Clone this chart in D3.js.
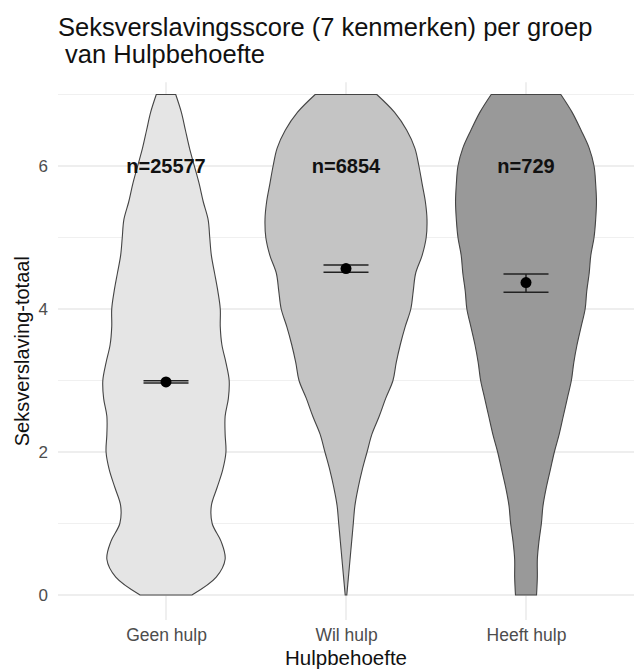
<!DOCTYPE html>
<html>
<head>
<meta charset="utf-8">
<script src="https://cdn.jsdelivr.net/npm/d3@7"></script>
<style>
  html, body { margin: 0; padding: 0; background: #ffffff; }
  svg { display: block; font-family: "Liberation Sans", Arial, sans-serif; }
</style>
</head>
<body>
<svg id="chart" width="634" height="670"></svg>
<script>
// ---------------- data ----------------
const categories = ["Geen hulp", "Wil hulp", "Heeft hulp"];
const nCounts = [25577, 6854, 729];
const means = [2.98, 4.565, 4.37];
const ciLower = [2.965, 4.513, 4.234];
const ciUpper = [2.995, 4.615, 4.49];
const yTicks = [0, 2, 4, 6];
const yMinor = [1, 3, 5, 7];
// density evaluation grid (score values) and relative violin widths (1 = widest)
const densityY = [0, 0.25, 0.5, 0.75, 1, 1.25, 1.5, 1.75, 2, 2.25, 2.5, 2.75, 3, 3.25, 3.5,
                  3.75, 4, 4.25, 4.5, 4.75, 5, 5.25, 5.5, 5.75, 6, 6.25, 6.5, 6.75, 7];
const densityGeen = [0.32, 0.62, 0.73, 0.68, 0.57, 0.56, 0.63, 0.70, 0.74, 0.73, 0.73, 0.77, 0.78, 0.74, 0.69,
                     0.67, 0.67, 0.64, 0.60, 0.56, 0.54, 0.52, 0.46, 0.41, 0.35, 0.29, 0.24, 0.19, 0.12];
const densityWil = [0.01, 0.03, 0.05, 0.07, 0.09, 0.11, 0.15, 0.20, 0.26, 0.32, 0.41, 0.49, 0.58, 0.62, 0.67,
                    0.73, 0.80, 0.83, 0.86, 0.94, 0.99, 1.00, 0.98, 0.94, 0.90, 0.85, 0.75, 0.60, 0.38];
const densityHeeft = [0.13, 0.14, 0.14, 0.16, 0.19, 0.21, 0.25, 0.30, 0.35, 0.41, 0.46, 0.51, 0.56, 0.59, 0.63,
                      0.68, 0.73, 0.75, 0.78, 0.80, 0.84, 0.86, 0.87, 0.86, 0.84, 0.78, 0.68, 0.57, 0.43];
const densities = [densityGeen, densityWil, densityHeeft];
const fills = ["#e5e5e5", "#c4c4c4", "#999999"];

const titleLines = ["Seksverslavingsscore (7 kenmerken) per groep", " van Hulpbehoefte"];
const xTitle = "Hulpbehoefte";
const yTitle = "Seksverslaving-totaal";

// ---------------- layout ----------------
const FONT = "Liberation Sans, Arial, sans-serif";
const svg = d3.select("#chart");
const panel = { left: 58, right: 634 };

const x = d3.scalePoint().domain(categories).range([panel.left, panel.right]).padding(0.6);
const y = d3.scaleLinear().domain([0, 7]).range([595, 94.5]);
const panelTop = y(7.17), panelBottom = y(-0.35);
const step = x.step();
const halfW = d3.scaleLinear().domain([0, 1]).range([0, 0.45 * step]);

// grid
const grid = svg.append("g");
grid.selectAll("line.minor").data(yMinor).join("line")
  .attr("x1", panel.left).attr("x2", panel.right)
  .attr("y1", d => y(d)).attr("y2", d => y(d))
  .attr("stroke", "#f0f0f0").attr("stroke-width", 1);
grid.selectAll("line.major").data(yTicks).join("line")
  .attr("x1", panel.left).attr("x2", panel.right)
  .attr("y1", d => y(d)).attr("y2", d => y(d))
  .attr("stroke", "#e8e8e8").attr("stroke-width", 1.4);
grid.selectAll("line.vmajor").data(categories).join("line")
  .attr("x1", d => x(d)).attr("x2", d => x(d))
  .attr("y1", panelTop).attr("y2", panelBottom)
  .attr("stroke", "#e8e8e8").attr("stroke-width", 1.4);

// violins
categories.forEach((c, i) => {
  const pts = densityY.map((v, j) => ({ v, w: densities[i][j], cx: x(c) }));
  svg.append("path")
    .datum(pts)
    .attr("d", d => {
      const right = d3.line().curve(d3.curveCatmullRom).x(p => p.cx + halfW(p.w)).y(p => y(p.v))(d);
      const left = d3.line().curve(d3.curveCatmullRom).x(p => p.cx - halfW(p.w)).y(p => y(p.v))(d.slice().reverse());
      return right + "L" + left.slice(1) + "Z";
    })
    .attr("fill", fills[i])
    .attr("stroke", "#444")
    .attr("stroke-width", 1.1);
});

// error bars + means
const ebHalf = 0.125 * step;
categories.forEach((c, i) => {
  const g = svg.append("g");
  const cx = x(c);
  g.append("line").attr("x1", cx).attr("x2", cx)
    .attr("y1", y(ciLower[i])).attr("y2", y(ciUpper[i]))
    .attr("stroke", "#111").attr("stroke-width", 1.3);
  [ciLower[i], ciUpper[i]].forEach(v => {
    g.append("line").attr("x1", cx - ebHalf).attr("x2", cx + ebHalf)
      .attr("y1", y(v)).attr("y2", y(v))
      .attr("stroke", "#222").attr("stroke-width", 1.5);
  });
  g.append("circle").attr("cx", cx).attr("cy", y(means[i])).attr("r", 5.5).attr("fill", "#000");
});

// n labels
svg.selectAll("text.nlab").data(categories).join("text")
  .attr("class", "nlab")
  .attr("x", d => x(d)).attr("y", y(6))
  .attr("text-anchor", "middle").attr("dominant-baseline", "central")
  .attr("font-family", FONT)
  .attr("font-size", 20).attr("font-weight", "bold").attr("fill", "#111")
  .text((d, i) => "n=" + nCounts[i]);

// axes (labels only, as in theme_minimal)
const yAxis = svg.append("g").attr("transform", `translate(${panel.left - 4},0)`)
  .call(d3.axisLeft(y).tickValues(yTicks).tickFormat(d3.format("d")).tickSize(0).tickPadding(6));
yAxis.select(".domain").remove();
yAxis.selectAll("text").attr("font-size", 17).attr("fill", "#4d4d4d")
  .attr("font-family", FONT);

const xAxis = svg.append("g").attr("transform", `translate(0,${panelBottom})`)
  .call(d3.axisBottom(x).tickSize(0).tickPadding(9));
xAxis.select(".domain").remove();
xAxis.selectAll("text").attr("font-size", 17.5).attr("fill", "#4d4d4d")
  .attr("font-family", FONT);

// titles
svg.append("text").attr("x", (panel.left + panel.right) / 2).attr("y", 665)
  .attr("text-anchor", "middle").attr("font-family", FONT)
  .attr("font-size", 20.5).attr("fill", "#111").text(xTitle);
svg.append("text")
  .attr("transform", `translate(29,${(panelTop + panelBottom) / 2}) rotate(-90)`)
  .attr("text-anchor", "middle").attr("font-family", FONT)
  .attr("font-size", 20).attr("fill", "#111").text(yTitle);

const title = svg.append("text").attr("font-family", FONT).attr("font-size", 25.5).attr("fill", "#111")
  .style("white-space", "pre");
titleLines.forEach((t, i) => {
  title.append("tspan").attr("x", panel.left).attr("y", 36 + i * 27).text(t);
});
</script>
</body>
</html>
